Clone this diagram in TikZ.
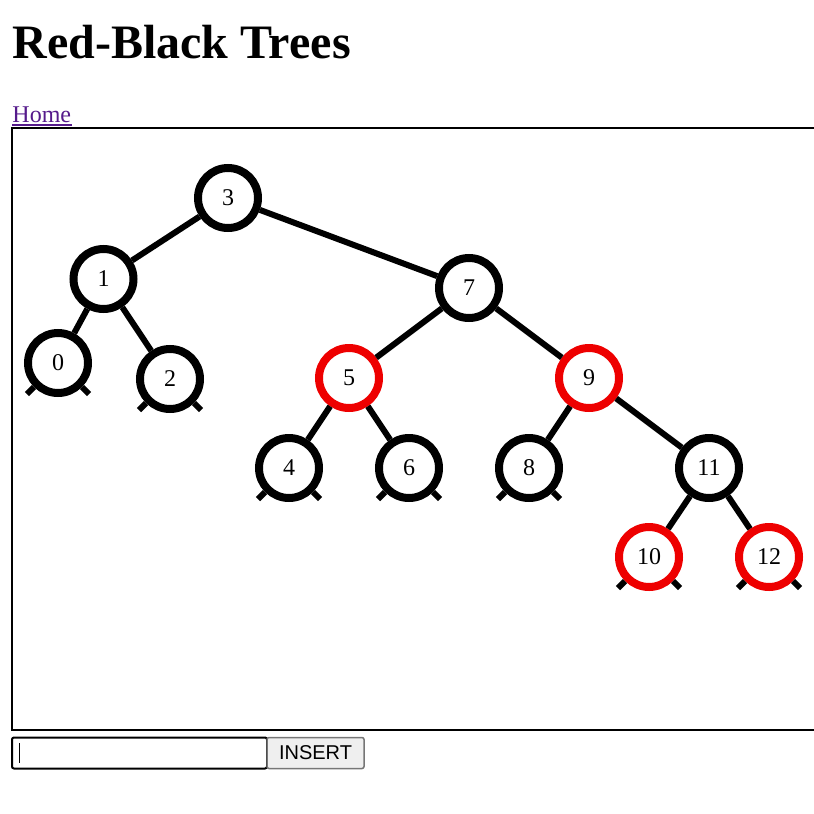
\documentclass[tikz,border=0pt]{standalone}
\usepackage{fontspec}
\setmainfont{Liberation Serif}
\newfontfamily\buttonfont{Liberation Sans}
\definecolor{linkpurple}{RGB}{85,26,139}
\definecolor{nodered}{RGB}{238,0,0}
\definecolor{btnfill}{RGB}{239,239,239}
\definecolor{btnedge}{RGB}{118,118,118}

\tikzset{every picture/.style={line width=1pt}}
\tikzset{
  rbnode/.style={circle, draw, fill=white, line width=8pt, minimum size=60pt, inner sep=0pt, font=\fontsize{24}{24}\selectfont},
  blacknode/.style={rbnode, draw=black},
  rednode/.style={rbnode, draw=nodered},
  treeedge/.style={line width=6pt},
  nilstub/.style={line width=6pt}
}

\begin{document}
\begin{tikzpicture}[x=1pt,y=1pt,yscale=-1,xscale=1]
  \useasboundingbox (0,0) rectangle (814,814);
  %Title
  \node [anchor=base west, inner sep=0pt] (title) at (12,58) {\fontsize{48}{48}\selectfont\bfseries Red-Black Trees};
  %Link
  \node [anchor=base west, inner sep=0pt, text=linkpurple] (home) at (12,122.5) {\fontsize{24}{24}\selectfont Home};
  \draw [linkpurple, line width=1.5pt] ([yshift=2.5pt]home.base west) -- ([yshift=2.5pt]home.base east);
  %Canvas frame
  \draw [line width=1.5pt] (830,128) -- (12,128) -- (12,730) -- (830,730);

  %Tree nodes
  \node [blacknode] (n3)  at (228,198)   {3};
  \node [blacknode] (n1)  at (103.5,279) {1};
  \node [blacknode] (n7)  at (469,288)   {7};
  \node [blacknode] (n0)  at (58,363)    {0};
  \node [blacknode] (n2)  at (170,379)   {2};
  \node [rednode]   (n5)  at (349,378)   {5};
  \node [rednode]   (n9)  at (589,378)   {9};
  \node [blacknode] (n4)  at (289,468)   {4};
  \node [blacknode] (n6)  at (409,468)   {6};
  \node [blacknode] (n8)  at (529,468)   {8};
  \node [blacknode] (n11) at (709,468)   {11};
  \node [rednode]   (n10) at (649,557)   {10};
  \node [rednode]   (n12) at (769,557)   {12};

  %Tree edges
  \foreach \a/\b in {n3/n1, n3/n7, n1/n0, n1/n2, n7/n5, n7/n9, n5/n4, n5/n6, n9/n8, n9/n11, n11/n10, n11/n12}
    \draw [treeedge] (\a) -- (\b);

  %Nil stubs under leaves
  \foreach \n in {n0, n2, n4, n6, n8, n10, n12}{
    \draw [nilstub] (\n.-135) -- ++(135:10);
    \draw [nilstub] (\n.-45) -- ++(45:10);
  }

  %Input box
  \draw [line width=2pt, rounded corners=2pt] (12,737.5) rectangle (267,768.5);
  \draw [line width=1.5pt] (19.5,743) -- (19.5,763);
  %Button
  \node [draw=btnedge, fill=btnfill, line width=1.5pt, rounded corners=2pt, minimum width=97pt, minimum height=31pt, inner sep=0pt, font=\buttonfont\fontsize{20}{20}\selectfont] (insert) at (315.5,753) {INSERT};
\end{tikzpicture}
\end{document}
